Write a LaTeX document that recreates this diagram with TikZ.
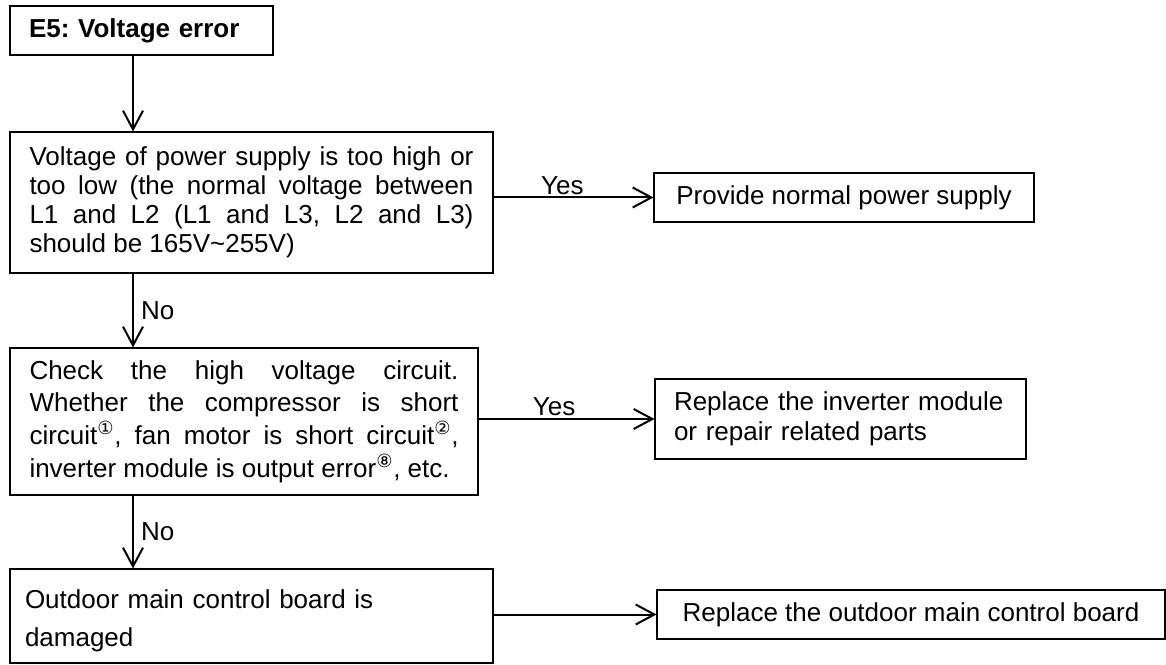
\documentclass[tikz,border=0pt]{standalone}
\usepackage{fontspec}
\setmainfont{Liberation Sans}
\newfontfamily\cerchiofont{DejaVu Sans}
\usetikzlibrary{arrows.meta}
\newcommand{\numcerchio}[1]{\textsuperscript{\cerchiofont #1}}
\hbadness=10000
\frenchspacing

\begin{document}
\begin{tikzpicture}[x=0.75pt, y=0.75pt,
    casella/.style={draw, line width=0.8pt, inner ysep=0pt},
    testo/.style={font=\fontsize{19.5}{#1}\selectfont},
    testo/.default=23pt,
    freccia/.style={-{Straight Barb[length=14pt,width=15pt]}, line width=1.5pt}]
    % area del disegno
    \useasboundingbox (0,0) rectangle (1166,664);
    \coordinate (asse) at (133,0);

    % caselle a sinistra
    \node[casella, font=\bfseries\fontsize{19.5}{23}\selectfont, minimum width=197.25pt,
        minimum height=36.75pt, text width=168.75pt, inner xsep=14.25pt, align=left]
        (errE5) at (141.5,633.5) {E5: Voltage error};
    \node[casella, testo=21.75pt, minimum width=362.25pt, minimum height=105.75pt,
        text width=333pt, inner xsep=14.625pt, align=justify] (volt) at (251.5,461.5)
        {Voltage of power supply is too high or\linebreak
         too low (the normal voltage between\linebreak
         L1 and L2 (L1 and L3, L2 and L3)\linebreak
         should be 165V\textasciitilde255V)};
    \node[casella, testo=24.5pt, minimum width=351pt, minimum height=110.25pt,
        text width=321.75pt, inner xsep=14.625pt, align=justify] (check) at (244,242.5)
        {Check the high voltage circuit.\linebreak
         Whether the compressor is short\linebreak
         circuit\numcerchio{①}, fan motor is short circuit\numcerchio{②},\linebreak
         inverter module is output error\numcerchio{⑧}, etc.};
    \node[casella, testo=28.5pt, minimum width=362.25pt, minimum height=70.5pt,
        text width=339.75pt, inner xsep=11.25pt, align=left] (dmg) at (251.5,48)
        {\rule{0pt}{22pt}Outdoor main control board is\\damaged};

    % caselle a destra
    \node[casella, testo, minimum width=285pt, minimum height=36.75pt] (power) at (844,466.5)
        {Provide normal power supply};
    \node[casella, testo=22.5pt, minimum width=278.25pt, minimum height=60pt,
        text width=249.75pt, inner xsep=14.25pt, align=left] (inv) at (840.5,245)
        {Replace the inverter module\\or repair related parts};
    \node[casella, testo, minimum width=381pt, minimum height=36.75pt] (board) at (911,49.5)
        {Replace the outdoor main control board};

    % frecce verticali
    \draw[freccia] (errE5.south -| asse) -- (volt.north -| asse);
    \draw[freccia] (volt.south -| asse) -- node[testo, right=2pt] (no1) {No} (check.north -| asse);
    \draw[freccia] (check.south -| asse) -- node[testo, right=2pt] (no2) {No} (dmg.north -| asse);

    % frecce orizzontali
    \draw[freccia] (power.west -| volt.east) -- node[testo, above=-2pt, pos=0.43] (si1) {Yes} (power.west);
    \draw[freccia] (inv.west -| check.east) -- node[testo, above=-2pt, pos=0.43] (si2) {Yes} (inv.west);
    \draw[freccia] (board.west -| dmg.east) -- (board.west);
\end{tikzpicture}
\end{document}
